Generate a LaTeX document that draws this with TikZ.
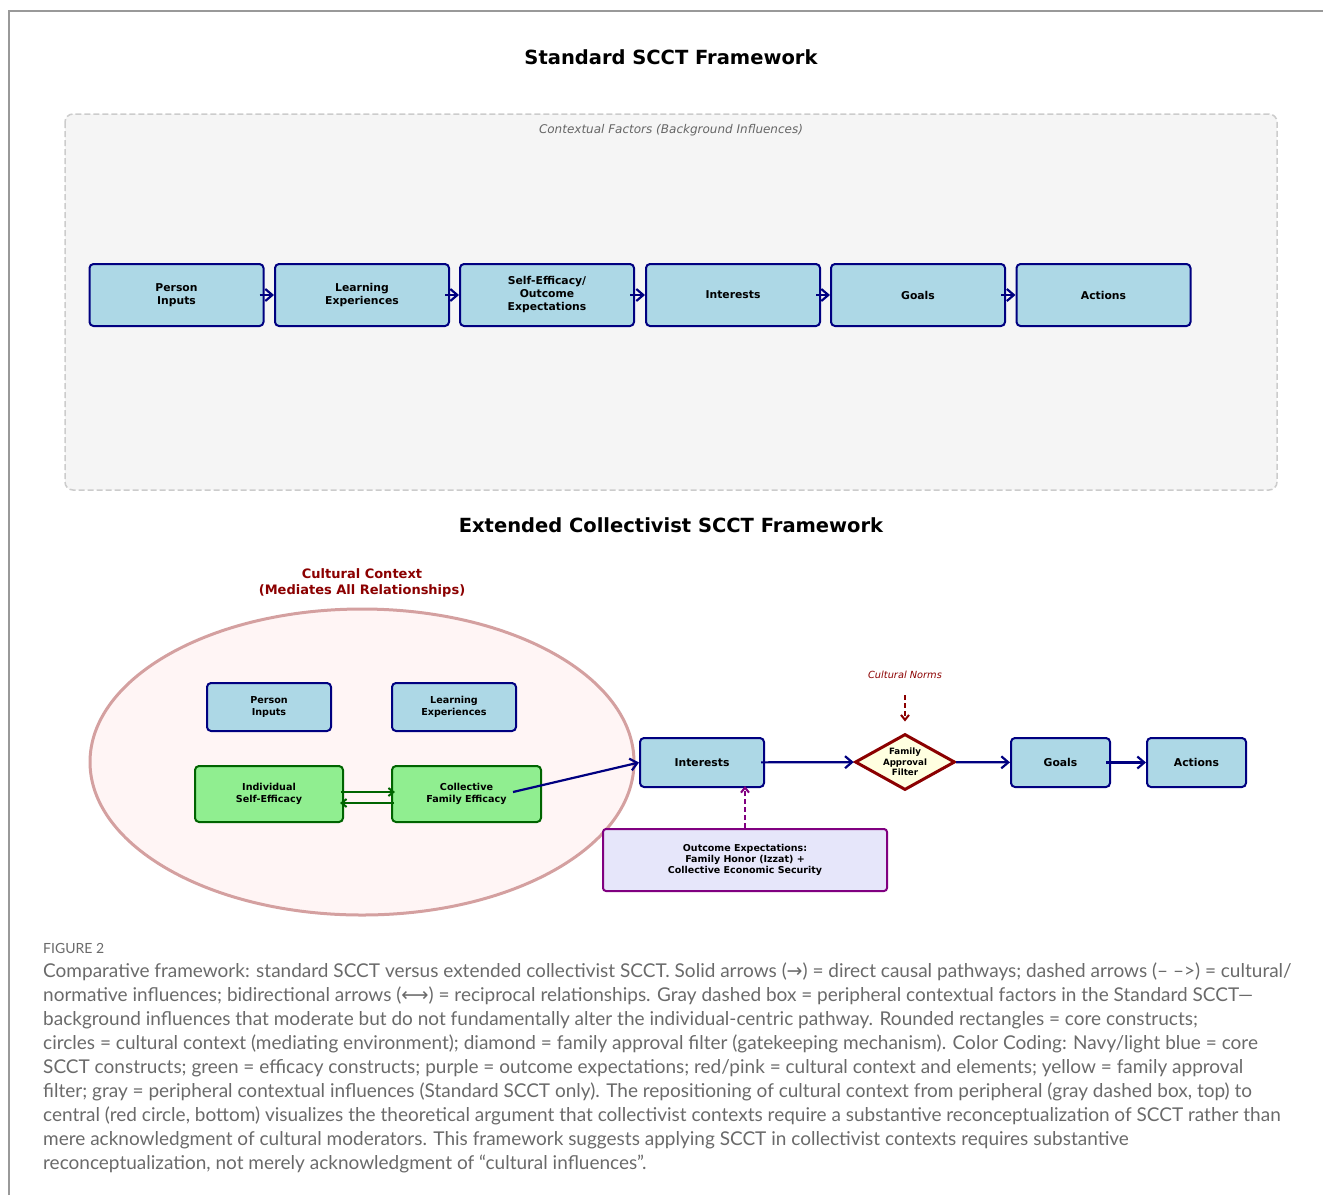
\documentclass[tikz,border=0pt]{standalone}
\usepackage{fontspec}
\setsansfont{DejaVu Sans}
\newfontfamily\capfont{Lato}
\newfontfamily\symfont{DejaVu Sans}
\usetikzlibrary{arrows.meta,
                    shapes.geometric,
                    calc}
\definecolor{navy}{HTML}{000080}
\definecolor{boxblue}{HTML}{ADD8E6}
\definecolor{effgreen}{HTML}{90EE90}
\definecolor{effdraw}{HTML}{006400}
\definecolor{darkred}{HTML}{8B0000}
\definecolor{culfill}{HTML}{FFF5F5}
\definecolor{culdraw}{HTML}{D4A0A0}
\definecolor{filtfill}{HTML}{FFFFE0}
\definecolor{oefill}{HTML}{E6E6FA}
\definecolor{oedraw}{HTML}{800080}
\definecolor{bgfill}{HTML}{F5F5F5}
\definecolor{bgdraw}{HTML}{CCCCCC}
\definecolor{captgray}{HTML}{6A6A6A}
\tikzset{
    core/.style={draw=navy, fill=boxblue, line width=2pt, rounded corners=4pt,
        align=center, inner sep=0pt,
        font=\sffamily\bfseries\fontsize{10.8}{13}\selectfont},
    inner/.style={font=\sffamily\bfseries\fontsize{9.6}{12}\selectfont},
    eff/.style={draw=effdraw, fill=effgreen, line width=2pt, rounded corners=4pt,
        align=center, inner sep=0pt,
        font=\sffamily\bfseries\fontsize{9.6}{12}\selectfont},
    flow/.style={navy, line width=2.2pt, -{Straight Barb[length=7pt,width=12pt]}},
}

\begin{document}
\begin{tikzpicture}[x=1pt,y=-1pt,
        title/.style={font=\sffamily\bfseries\fontsize{19.5}{23}\selectfont},
        oebox/.style={draw=oedraw, fill=oefill, line width=2pt, rounded corners=3pt,
            align=center, inner sep=0pt,
            font=\sffamily\bfseries\fontsize{9.5}{11}\selectfont}]
    \useasboundingbox (0,0) rectangle (1323,1195);

    % moldura
    \draw[black!40, line width=1.2pt] (9,1195) -- (9,11) -- (1323,11);

    % quadro padrao
    \node[title] (t1) at (671,57) {Standard SCCT Framework};
    \draw[bgdraw, fill=bgfill, line width=1.5pt, dash pattern=on 6pt off 3pt,
        rounded corners=8pt] (65,114) rectangle (1277,490);
    \node[font=\sffamily\itshape\fontsize{12}{14}\selectfont, black!60] (ctxf)
        at (671,130) {Contextual Factors (Background Influences)};

    \node[core, minimum width=174pt, minimum height=62pt] (pi) at (176.5,295) {Person\\Inputs};
    \node[core, minimum width=174pt, minimum height=62pt] (le) at (362,295) {Learning\\Experiences};
    \node[core, minimum width=174pt, minimum height=62pt] (se) at (547,295) {Self-Efficacy/\\Outcome\\Expectations};
    \node[core, minimum width=174pt, minimum height=62pt] (in) at (733,295) {Interests};
    \node[core, minimum width=174pt, minimum height=62pt] (go) at (918,295) {Goals};
    \node[core, minimum width=174pt, minimum height=62pt] (ac) at (1103.5,295) {Actions};

    \draw[flow, shorten <=-5pt] (pi) -- (le);
    \draw[flow, shorten <=-5pt] (le) -- (se);
    \draw[flow, shorten <=-5pt] (se) -- (in);
    \draw[flow, shorten <=-5pt] (in) -- (go);
    \draw[flow, shorten <=-5pt] (go) -- (ac);

    % quadro coletivista
    \node[title] (t2) at (671,525) {Extended Collectivist SCCT Framework};

    \draw[culdraw, fill=culfill, line width=3pt] (362,762) ellipse [x radius=272pt, y radius=153pt];
    \node[darkred, align=center, font=\sffamily\bfseries\fontsize{13}{15.5}\selectfont] (ctx)
        at (362,583) {Cultural Context\\(Mediates All Relationships)};

    \node[core, inner, minimum width=124pt, minimum height=48pt] (pi2) at (269,707) {Person\\Inputs};
    \node[core, inner, minimum width=124pt, minimum height=48pt] (le2) at (454,707) {Learning\\Experiences};
    \node[eff, minimum width=148pt, minimum height=56pt] (ise) at (269,794) {Individual\\Self-Efficacy};
    \node[eff, minimum width=149pt, minimum height=56pt] (cfe) at (466.5,794) {Collective\\Family Efficacy};

    \node[core, minimum width=124pt, minimum height=49pt] (int) at (702,762.5) {Interests};
    \node[diamond, aspect=1.79, draw=darkred, fill=filtfill, line width=3pt, inner sep=0pt,
        minimum width=100pt, minimum height=56pt, align=center,
        font=\sffamily\bfseries\fontsize{8.7}{10.5}\selectfont] (filt) at (905,762) {Family\\Approval\\Filter};
    \node[core, minimum width=99pt, minimum height=49pt] (goals) at (1060.5,762.5) {Goals};
    \node[core, minimum width=99pt, minimum height=49pt] (act) at (1196.5,762.5) {Actions};
    \node[oebox, minimum width=284pt, minimum height=62pt] (oe) at (745,860)
        {Outcome Expectations:\\Family Honor (Izzat) +\\Collective Economic Security};
    \node[darkred, font=\sffamily\itshape\fontsize{9.8}{12}\selectfont] (norms) at (905,675) {Cultural Norms};

    \draw[effdraw, line width=2pt, -{Straight Barb[length=5pt,width=8pt]},
        shorten <=-3pt, shorten >=-4pt] ([yshift=2pt]ise.east) -- ([yshift=2pt]cfe.west);
    \draw[effdraw, line width=2pt, -{Straight Barb[length=5pt,width=8pt]},
        shorten <=-3pt, shorten >=-4pt] ([yshift=-9pt]cfe.west) -- ([yshift=-9pt]ise.east);
    \draw[flow] ([xshift=-29pt,yshift=2pt]cfe.east) -- (int.west);
    \draw[flow, shorten <=-4pt] (int) -- (filt);
    \draw[flow] (filt) -- (goals);
    \draw[flow, shorten <=-5pt] (goals) -- (act);
    \draw[darkred, line width=2pt, dash pattern=on 5pt off 3pt, -{Straight Barb[length=5pt,width=8pt]},
        shorten <=13pt, shorten >=11pt] (norms.south) -- (filt.north);
    \draw[oedraw, line width=2pt, dash pattern=on 5pt off 3pt, -{Straight Barb[length=5pt,width=8pt]},
        shorten >=-2pt] (oe.north) -- (oe.north |- int.south);

    % legenda
    \node[anchor=west, inner sep=0pt, captgray, font=\capfont\fontsize{14}{17}\selectfont] (fig)
        at (43,948) {FIGURE 2};
    \node[anchor=north west, inner sep=0pt, align=left, captgray,
        font=\capfont\fontsize{19}{24}\selectfont] (capt) at (43,963)
        {Comparative framework: standard SCCT versus extended collectivist SCCT. Solid arrows ({\symfont →}) = direct causal pathways; dashed arrows (– –>) = cultural/\\
         normative influences; bidirectional arrows ({\symfont ⟷}) = reciprocal relationships. Gray dashed box = peripheral contextual factors in the Standard SCCT—\\
         background influences that moderate but do not fundamentally alter the individual-centric pathway. Rounded rectangles = core constructs;\\
         circles = cultural context (mediating environment); diamond = family approval filter (gatekeeping mechanism). Color Coding: Navy/light blue = core\\
         SCCT constructs; green = efficacy constructs; purple = outcome expectations; red/pink = cultural context and elements; yellow = family approval\\
         filter; gray = peripheral contextual influences (Standard SCCT only). The repositioning of cultural context from peripheral (gray dashed box, top) to\\
         central (red circle, bottom) visualizes the theoretical argument that collectivist contexts require a substantive reconceptualization of SCCT rather than\\
         mere acknowledgment of cultural moderators. This framework suggests applying SCCT in collectivist contexts requires substantive\\
         reconceptualization, not merely acknowledgment of “cultural influences”.};

\end{tikzpicture}
\end{document}
